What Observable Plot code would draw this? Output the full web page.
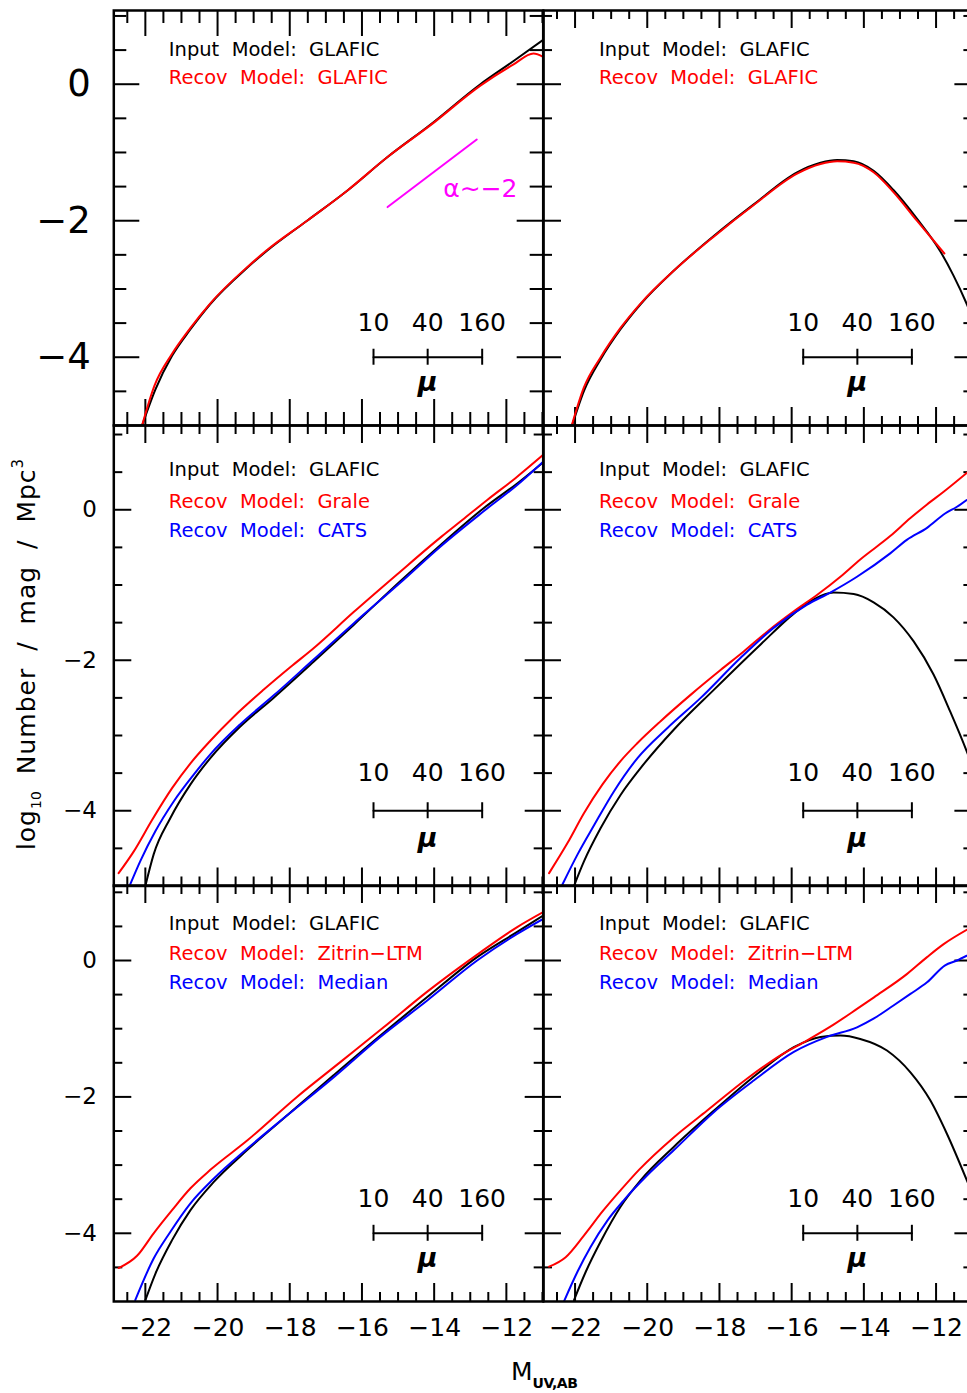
<!DOCTYPE html>
<html><head><meta charset="utf-8">
<script src="https://cdn.jsdelivr.net/npm/d3@7"></script>
<script src="https://cdn.jsdelivr.net/npm/@observablehq/plot@0.6"></script>
<style>
html,body{margin:0;padding:0;background:#fff;overflow:hidden;}
#fig{position:relative;width:967px;height:1393px;overflow:hidden;font-family:"DejaVu Sans",sans-serif;color:#000;}
.ytitle{position:absolute;left:27px;top:654px;transform:translate(-50%,-50%) rotate(-90deg);white-space:nowrap;font-size:25px;line-height:1;letter-spacing:1px;word-spacing:8px;}
.ytitle sub{font-size:14px;vertical-align:-6px;letter-spacing:0;}
.ytitle sup{font-size:15px;vertical-align:12px;}
.xtitle{position:absolute;left:511px;top:1359px;white-space:nowrap;font-size:25px;line-height:1;}
.xtitle sub{font-size:14px;vertical-align:-8px;font-weight:bold;letter-spacing:-0.5px;}
</style></head><body><div id="fig"></div>
<script>
// ---------- axes / ticks ----------
const xDomain = [-22.874, -10.98];
const xMajor = [-22, -20, -18, -16, -14, -12];
const xMinor = [-22.5, -21.5, -21, -20.5, -19.5, -19, -18.5, -17.5, -17, -16.5, -15.5, -15, -14.5, -13.5, -13, -12.5, -11.5, -11];
const yMajor = [-4, -2, 0];
const yMinor = [-4.5, -3.5, -3, -2.5, -1.5, -1, -0.5, 0.5, 1];
const muValues = [10, 40, 160];
const muMags = [-15.68, -14.18, -12.67];
const muBarY = -4;
const alphaLine = [[-15.29, -1.80], [-12.82, -0.81]];
const alphaLabel = "α∼−2";

// ---------- curves [M_UV, log10 N] ----------
const tlInput = [[-22.09,-5.0],[-21.72,-4.47],[-21.26,-3.98],[-20.75,-3.59],[-20.2,-3.22],[-19.18,-2.69],[-18.63,-2.44],[-17.52,-2.0],[-16.41,-1.56],[-15.30,-1.07],[-14.1,-0.59],[-12.72,0.0],[-11.8,0.34],[-10.98,0.65]];
const tlGlafic = [[-22.08,-4.98],[-21.75,-4.42],[-21.26,-3.95],[-20.75,-3.57],[-20.2,-3.21],[-19.18,-2.68],[-18.63,-2.43],[-17.52,-2.0],[-16.41,-1.56],[-15.30,-1.07],[-14.1,-0.60],[-12.72,-0.02],[-11.8,0.29],[-11.25,0.45],[-10.98,0.40]];

const trInput = [[-22.07,-4.98],[-21.75,-4.49],[-21.29,-4.03],[-20.74,-3.59],[-20.18,-3.22],[-19.26,-2.73],[-18.15,-2.22],[-17.05,-1.76],[-15.85,-1.29],[-15.2,-1.15],[-14.74,-1.11],[-14.28,-1.13],[-13.73,-1.27],[-13.18,-1.55],[-12.53,-1.97],[-11.88,-2.45],[-11.52,-2.80],[-11.15,-3.22],[-10.95,-3.48]];
const trGlafic = [[-22.08,-4.98],[-21.76,-4.45],[-21.29,-4.0],[-20.74,-3.57],[-20.18,-3.21],[-19.26,-2.73],[-18.15,-2.23],[-17.05,-1.77],[-15.85,-1.31],[-15.2,-1.17],[-14.74,-1.13],[-14.28,-1.15],[-13.73,-1.29],[-13.18,-1.58],[-12.53,-2.0],[-11.77,-2.48]];

const mlInput = [[-22.0,-5.0],[-21.77,-4.58],[-21.31,-4.10],[-20.75,-3.65],[-20.2,-3.30],[-19.37,-2.88],[-18.45,-2.50],[-17.34,-2.02],[-16.23,-1.53],[-14.94,-0.95],[-13.83,-0.47],[-12.63,0.02],[-11.70,0.35],[-10.98,0.63]];
const mlGrale = [[-22.74,-4.83],[-22.32,-4.54],[-21.81,-4.12],[-21.26,-3.70],[-20.75,-3.37],[-20.2,-3.07],[-19.55,-2.75],[-18.72,-2.39],[-17.98,-2.09],[-17.34,-1.84],[-16.23,-1.36],[-15.03,-0.86],[-13.78,-0.35],[-13.23,-0.14],[-12.53,0.13],[-11.75,0.42],[-10.98,0.73]];
const mlCats = [[-22.42,-4.98],[-22.14,-4.67],[-21.72,-4.27],[-21.22,-3.88],[-20.66,-3.52],[-20.2,-3.25],[-19.37,-2.85],[-18.45,-2.47],[-17.34,-1.99],[-16.23,-1.51],[-14.94,-0.97],[-13.83,-0.49],[-12.63,-0.02],[-11.70,0.33],[-10.98,0.64]];

const mrInput = [[-22.03,-5.0],[-21.75,-4.67],[-21.29,-4.23],[-20.74,-3.79],[-20.18,-3.43],[-19.26,-2.92],[-18.15,-2.39],[-16.86,-1.79],[-15.94,-1.38],[-15.39,-1.19],[-14.84,-1.10],[-14.28,-1.12],[-13.73,-1.23],[-13.18,-1.43],[-12.62,-1.75],[-12.07,-2.19],[-11.61,-2.68],[-11.15,-3.21],[-10.95,-3.46]];
const mrGrale = [[-22.72,-4.83],[-22.21,-4.43],[-21.75,-4.03],[-21.24,-3.65],[-20.74,-3.34],[-20.27,-3.10],[-19.63,-2.81],[-18.80,-2.46],[-17.97,-2.13],[-17.32,-1.88],[-16.68,-1.62],[-15.94,-1.35],[-15.29,-1.13],[-14.65,-0.89],[-14.1,-0.66],[-13.27,-0.35],[-12.71,-0.11],[-12.25,0.07],[-11.79,0.24],[-11.15,0.49]];
const mrCats = [[-22.35,-4.98],[-21.93,-4.58],[-21.47,-4.19],[-20.92,-3.74],[-20.27,-3.30],[-19.44,-2.90],[-18.52,-2.50],[-17.42,-1.97],[-16.50,-1.57],[-15.57,-1.26],[-14.93,-1.10],[-14.19,-0.89],[-13.27,-0.58],[-12.81,-0.40],[-12.25,-0.24],[-11.75,-0.05],[-11.42,0.04],[-11.15,0.13]];

const blInput = [[-22.0,-4.98],[-21.72,-4.59],[-21.26,-4.10],[-20.75,-3.66],[-20.11,-3.25],[-19.18,-2.78],[-18.07,-2.27],[-16.78,-1.68],[-15.49,-1.10],[-14.2,-0.54],[-12.81,0.05],[-11.70,0.42],[-10.98,0.66]];
const blZitrin = [[-22.74,-4.51],[-22.23,-4.33],[-21.77,-4.0],[-21.26,-3.66],[-20.75,-3.34],[-20.2,-3.07],[-19.18,-2.64],[-17.80,-2.0],[-16.6,-1.49],[-15.40,-0.98],[-14.20,-0.46],[-12.72,0.12],[-11.70,0.49],[-10.98,0.71]];
const blMedian = [[-22.28,-4.98],[-21.77,-4.37],[-21.31,-3.98],[-20.75,-3.56],[-20.11,-3.20],[-19.18,-2.76],[-18.07,-2.27],[-16.78,-1.71],[-15.49,-1.12],[-14.2,-0.59],[-12.81,0.0],[-11.70,0.39],[-10.98,0.61]];

const brInput = [[-22.03,-4.98],[-21.70,-4.56],[-21.29,-4.12],[-20.74,-3.61],[-20.18,-3.22],[-19.26,-2.73],[-18.15,-2.20],[-16.95,-1.66],[-15.94,-1.27],[-15.2,-1.12],[-14.65,-1.10],[-14.1,-1.15],[-13.36,-1.32],[-12.71,-1.64],[-12.16,-2.05],[-11.70,-2.54],[-11.15,-3.22],[-10.95,-3.48]];
const brZitrin = [[-22.72,-4.49],[-22.26,-4.35],[-21.75,-4.03],[-21.24,-3.68],[-20.74,-3.37],[-20.23,-3.07],[-19.26,-2.59],[-18.34,-2.20],[-17.23,-1.73],[-16.31,-1.39],[-15.57,-1.17],[-14.84,-0.94],[-14.19,-0.71],[-13.72,-0.54],[-12.81,-0.20],[-12.25,0.05],[-11.79,0.24],[-11.15,0.45]];
const brMedian = [[-22.30,-4.99],[-21.93,-4.56],[-21.57,-4.20],[-21.10,-3.81],[-20.64,-3.51],[-20.0,-3.15],[-19.26,-2.78],[-18.15,-2.22],[-17.05,-1.76],[-15.94,-1.34],[-15.02,-1.12],[-14.19,-0.98],[-13.72,-0.85],[-13.18,-0.66],[-12.71,-0.49],[-12.25,-0.32],[-11.75,-0.07],[-11.42,0.0],[-11.15,0.07]];

// ---------- legend labels ----------
const inputLabel = "Input Model: GLAFIC";
const legendTop = ["Recov Model: GLAFIC"];
const legendMid = ["Recov Model: Grale", "Recov Model: CATS"];
const legendBot = ["Recov Model: Zitrin−LTM", "Recov Model: Median"];

// ---------- layout ----------
const FONT = "'DejaVu Sans', sans-serif";
const panelW = 429.4;
const rows = [
  {top: 9.5, h: 415, domain: [-5, 1.08], labelSize: 37, labelDx: -23, legendDy: [38.8, 67.2, 96]},
  {top: 424.5, h: 460.5, domain: [-5, 1.12], labelSize: 23, labelDx: -17, legendDy: [44, 76.7, 105.7]},
  {top: 885, h: 416, domain: [-5, 1.1], labelSize: 23, labelDx: -17, legendDy: [38.5, 68.5, 97]}
];
const fig = document.getElementById("fig");
const fmt = d => d === 0 ? "0" : (d < 0 ? "\u2212" : "") + Math.abs(d);
// wide word gaps of the plotter lettering
const wide = s => s.replace(/ /g, "\u00a0\u00a0");

function panel(col, row, curves, legend, withAlpha) {
  const R = rows[row];
  const mL = col === 0 ? 113.3 : 0;
  const mT = 12, mB = row === 2 ? 60 : 4;
  const big = row === 0 && col === 0;
  const tMaj = big ? 26 : 18, tMin = big ? 13 : 9;
  const H = R.h;
  const tk = {stroke: "black", strokeWidth: 2};
  const marks = [
    Plot.tickX(xMajor, {...tk, insetTop: H - tMaj}),
    Plot.tickX(xMajor, {...tk, insetBottom: H - tMaj}),
    Plot.tickX(xMinor, {...tk, insetTop: H - tMin}),
    Plot.tickX(xMinor, {...tk, insetBottom: H - tMin}),
    Plot.tickY(yMajor, {...tk, insetRight: panelW - tMaj}),
    Plot.tickY(yMajor, {...tk, insetLeft: panelW - tMaj}),
    Plot.tickY(yMinor, {...tk, insetRight: panelW - tMin}),
    Plot.tickY(yMinor, {...tk, insetLeft: panelW - tMin})
  ];
  for (const c of curves) {
    marks.push(Plot.line(c.data, {x: d => d[0], y: d => d[1], stroke: c.color, strokeWidth: 2, curve: "monotone-x", clip: true}));
  }
  // magnification scale bar
  marks.push(Plot.line(muMags, {x: d => d, y: () => muBarY, stroke: "black", strokeWidth: 2}));
  marks.push(Plot.ruleX(muMags, {x: d => d, y1: () => muBarY, y2: () => muBarY, insetTop: -8, insetBottom: -8, stroke: "black", strokeWidth: 2}));
  marks.push(Plot.text(muValues, {x: (d, i) => muMags[i], y: () => muBarY + 0.5, text: d => String(d), fontSize: 25, fill: "black", lineAnchor: "middle", ariaLabel: "mulab"}));
  marks.push(Plot.text(["μ"], {x: () => muMags[1], y: () => muBarY - 0.37, text: d => d, fontSize: 27, fontStyle: "italic", fontWeight: "bold", fill: "black", lineAnchor: "middle"}));
  // legend
  const lx = col === 0 ? 55 : 55.6;
  const legStyle = {textAnchor: "start", lineAnchor: "middle", fontSize: 19.5, frameAnchor: "top-left", dx: lx, text: d => wide(d)};
  marks.push(Plot.text([inputLabel], {...legStyle, dy: R.legendDy[0], fill: "black"}));
  legend.forEach((t, i) => {
    marks.push(Plot.text([t], {...legStyle, dy: R.legendDy[i + 1], fill: i === 0 ? "#ff0000" : "#0000ff"}));
  });
  if (withAlpha) {
    marks.push(Plot.line(alphaLine, {x: d => d[0], y: d => d[1], stroke: "#ff00ff", strokeWidth: 2}));
    marks.push(Plot.text([alphaLabel], {x: () => -12.72, y: () => -1.53, text: d => d, fontSize: 25, fill: "#ff00ff", lineAnchor: "middle"}));
  }
  if (col === 0) {
    marks.push(Plot.text(yMajor, {y: d => d, frameAnchor: "left", dx: R.labelDx, text: fmt, textAnchor: "end", lineAnchor: "middle", fontSize: R.labelSize, fill: "black"}));
  }
  if (row === 2) {
    marks.push(Plot.text(xMajor, {x: d => d, frameAnchor: "bottom", dy: 27, dx: 0.5, text: fmt, lineAnchor: "middle", fontSize: 25, fill: "black", ariaLabel: "xlab"}));
  }
  marks.push(Plot.frame({stroke: "black", strokeWidth: 2.5}));
  const svg = Plot.plot({
    width: mL + panelW, height: mT + H + mB,
    marginLeft: mL, marginRight: 0, marginTop: mT, marginBottom: mB,
    x: {domain: xDomain, axis: null},
    y: {domain: R.domain, axis: null},
    style: `font-family:${FONT};background:none;overflow:visible;max-width:none;position:absolute;left:${col === 0 ? 0 : 542.7}px;top:${R.top - mT}px;`,
    marks
  });
  svg.querySelectorAll('g[aria-label="xlab"]').forEach(g => { g.style.letterSpacing = "1px"; });
  svg.querySelectorAll('g[aria-label="mulab"]').forEach(g => { g.style.letterSpacing = "1px"; });
  fig.appendChild(svg);
}

panel(0, 0, [{data: tlInput, color: "black"}, {data: tlGlafic, color: "#ff0000"}], legendTop, true);
panel(1, 0, [{data: trInput, color: "black"}, {data: trGlafic, color: "#ff0000"}], legendTop, false);
panel(0, 1, [{data: mlInput, color: "black"}, {data: mlGrale, color: "#ff0000"}, {data: mlCats, color: "#0000ff"}], legendMid, false);
panel(1, 1, [{data: mrInput, color: "black"}, {data: mrGrale, color: "#ff0000"}, {data: mrCats, color: "#0000ff"}], legendMid, false);
panel(0, 2, [{data: blInput, color: "black"}, {data: blZitrin, color: "#ff0000"}, {data: blMedian, color: "#0000ff"}], legendBot, false);
panel(1, 2, [{data: brInput, color: "black"}, {data: brZitrin, color: "#ff0000"}, {data: brMedian, color: "#0000ff"}], legendBot, false);

const yt = document.createElement("div");
yt.className = "ytitle";
yt.innerHTML = "log<sub>10</sub> Number / mag / Mpc<sup>3</sup>";
fig.appendChild(yt);
const xt = document.createElement("div");
xt.className = "xtitle";
xt.innerHTML = "M<sub>UV,AB</sub>";
fig.appendChild(xt);
</script>
</body></html>
